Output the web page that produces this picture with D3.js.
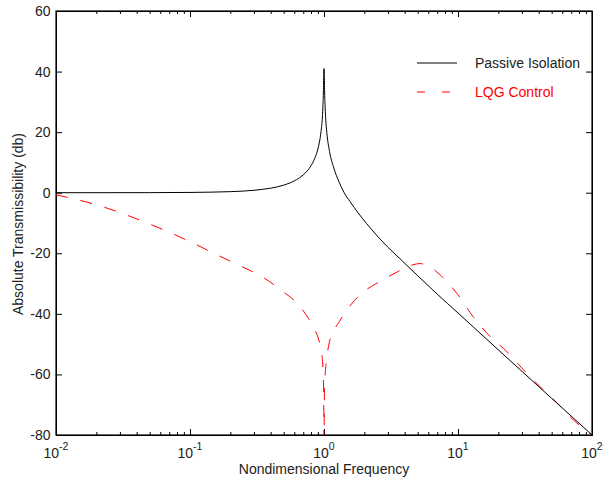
<!DOCTYPE html>
<html>
<head>
<meta charset="utf-8">
<script src="https://cdn.jsdelivr.net/npm/d3@7"></script>
<style>
  body { margin: 0; background: #fff; }
  text { font-family: "Liberation Sans", Arial, sans-serif; }
</style>
</head>
<body>
<svg id="chart" width="604" height="481"></svg>
<script>
// values
var passiveFreq = [0.01, 0.05, 0.1, 0.2, 0.3, 0.4, 0.5, 0.6, 0.7, 0.8, 0.85, 0.9, 0.95, 0.97, 0.98, 0.99, 0.995, 1.0,
                   1.005, 1.01, 1.02, 1.03, 1.05, 1.1, 1.173, 1.3, 1.414, 1.563, 1.8, 2.08, 2.5, 3, 3.69, 5, 7, 10, 20, 50, 100];
var passiveDb   = [0, 0.02, 0.1, 0.35, 0.8, 1.5, 2.5, 3.9, 5.9, 8.9, 11.2, 14.4, 20.2, 24.2, 28, 34, 39.5, 41,
                   39.5, 34, 28, 24.3, 19.8, 13.6, 8.7, 3.4, 0, -2.9, -6.7, -10.2, -14.3, -18, -21.8, -27.4, -33.5, -39.7, -51.9, -67.9, -80];

var lqgFreq = [0.01, 0.0151, 0.0239, 0.0357, 0.053, 0.0773, 0.112, 0.162, 0.236, 0.343, 0.483, 0.662, 0.824, 0.92, 0.961,
               0.988, 0.997, 1.0, 1.004, 1.015, 1.047, 1.109, 1.167, 1.3, 1.435, 1.6, 1.857, 2.62, 3.69, 4.6, 5.2, 6.2, 7.55, 10,
               12.9, 17.3, 23.1, 30.7, 40.9, 54.6, 72.5, 100];
var lqgDb   = [-0.7, -2.5, -5.05, -7.8, -10.8, -13.9, -17.2, -20.7, -24.1, -27.7, -32.3, -37.6, -44.1, -49, -52.8,
               -60.7, -72, -90, -72, -62, -55, -48.5, -46, -42.6, -39.6, -36.8, -33.7, -29.3, -25.7, -23.8, -23.4, -24.6, -27.6, -33.7,
               -40.8, -47.4, -52.4, -58.4, -64, -69.3, -75, -80];

var xMajor = [0.01, 0.1, 1, 10, 100];
var xExp = ["-2", "-1", "0", "1", "2"];
var yTicks = [-80, -60, -40, -20, 0, 20, 40, 60];

var legendNames = ["Passive Isolation", "LQG Control"];

var svg = d3.select("#chart");
var margin = {top: 11, right: 12, bottom: 46, left: 56};
var width = 604 - margin.left - margin.right;
var height = 481 - margin.top - margin.bottom;

var x = d3.scaleLog().domain([0.01, 100]).range([0, width]);
var y = d3.scaleLinear().domain([-80, 60]).range([height, 0]);

var g = svg.append("g")
  .attr("transform", "translate(" + margin.left + "," + margin.top + ")");

g.append("clipPath").attr("id", "clip")
  .append("rect").attr("width", width).attr("height", height);

// minor ticks for the log axis
var xMinor = [];
[0.01, 0.1, 1, 10].forEach(function(d) {
  for (var k = 2; k <= 9; k++) xMinor.push(d * k);
});

function noLabels(a) { return a.tickFormat("").tickSizeOuter(0); }

g.append("g").attr("transform", "translate(0," + height + ")")
  .call(noLabels(d3.axisBottom(x).tickValues(xMajor).tickSizeInner(-6)));
g.append("g").attr("transform", "translate(0," + height + ")")
  .call(noLabels(d3.axisBottom(x).tickValues(xMinor).tickSizeInner(-3)));
g.append("g")
  .call(noLabels(d3.axisTop(x).tickValues(xMajor).tickSizeInner(-6)));
g.append("g")
  .call(noLabels(d3.axisTop(x).tickValues(xMinor).tickSizeInner(-3)));
g.append("g")
  .call(noLabels(d3.axisLeft(y).tickValues(yTicks).tickSizeInner(-6)));
g.append("g").attr("transform", "translate(" + width + ",0)")
  .call(noLabels(d3.axisRight(y).tickValues(yTicks).tickSizeInner(-6)));

g.selectAll(".domain").attr("stroke", "#000");
g.selectAll(".tick line").attr("stroke", "#000");

// frame
g.append("rect")
  .attr("width", width).attr("height", height)
  .attr("fill", "none").attr("stroke", "#000").attr("stroke-width", 1.2);

// y tick labels
g.selectAll(".ylab").data(yTicks).enter().append("text")
  .attr("x", -5.5)
  .attr("y", function(d) { return y(d); })
  .attr("dy", "0.36em")
  .attr("text-anchor", "end")
  .attr("font-size", 14)
  .attr("fill", "#222")
  .text(function(d) { return d; });

// x tick labels 10^n
var xl = g.selectAll(".xlab").data(xMajor).enter().append("text")
  .attr("x", function(d) { return x(d); })
  .attr("y", height + 23)
  .attr("text-anchor", "middle")
  .attr("font-size", 14)
  .attr("fill", "#222");
xl.append("tspan").text("10");
xl.append("tspan")
  .attr("font-size", 10.5)
  .attr("dy", -8)
  .text(function(d, i) { return xExp[i]; });

// axis titles
g.append("text")
  .attr("x", width / 2)
  .attr("y", height + 39)
  .attr("text-anchor", "middle")
  .attr("font-size", 14)
  .attr("fill", "#222")
  .text("Nondimensional Frequency");

g.append("text")
  .attr("transform", "translate(-33," + (height / 2 + 1) + ") rotate(-90)")
  .attr("text-anchor", "middle")
  .attr("font-size", 14)
  .attr("fill", "#222")
  .text("Absolute Transmissibility (db)");

// curves
var line = d3.line()
  .curve(d3.curveMonotoneX)
  .x(function(d) { return x(d[0]); })
  .y(function(d) { return y(d[1]); });

var plot = g.append("g").attr("clip-path", "url(#clip)");

plot.append("path")
  .datum(d3.zip(lqgFreq, lqgDb))
  .attr("fill", "none")
  .attr("stroke", "#ff0000")
  .attr("stroke-width", 1)
  .attr("stroke-dasharray", "12,13")
  .attr("d", line);

plot.append("path")
  .datum(d3.zip(passiveFreq, passiveDb))
  .attr("fill", "none")
  .attr("stroke", "#000")
  .attr("stroke-width", 1)
  .attr("d", line);

// legend
var leg = g.append("g").attr("transform", "translate(" + (417 - margin.left) + "," + (63 - margin.top) + ")");
leg.append("line").attr("x1", 0).attr("x2", 40).attr("y1", 0).attr("y2", 0)
  .attr("stroke", "#000");
leg.append("line").attr("x1", 0).attr("x2", 40).attr("y1", 29).attr("y2", 29)
  .attr("stroke", "#ff0000").attr("stroke-dasharray", "8,17");
leg.selectAll("text").data(legendNames).enter().append("text")
  .attr("x", 58)
  .attr("y", function(d, i) { return i * 29; })
  .attr("dy", "0.36em")
  .attr("font-size", 14)
  .attr("fill", function(d, i) { return i ? "#ff0000" : "#222"; })
  .text(function(d) { return d; });
</script>
</body>
</html>
